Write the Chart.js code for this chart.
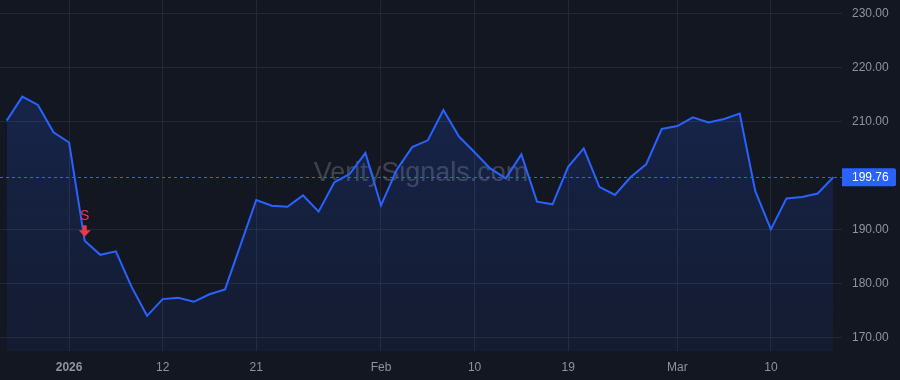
<!DOCTYPE html>
<html>
<head>
<meta charset="utf-8">
<script src="https://cdn.jsdelivr.net/npm/chart.js@4/dist/chart.umd.min.js"></script>
<style>
    html, body { margin: 0; padding: 0; background: #131722; }
    canvas { display: block; }
</style>
</head>
<body>
<canvas id="priceChart" width="900" height="380"></canvas>
<script>
// trading days, Dec 26 2025 -> Mar 16 2026
const dates = [
    'Dec 26', 'Dec 29', 'Dec 30', 'Dec 31', 'Jan 2', 'Jan 5', 'Jan 6', 'Jan 7', 'Jan 8', 'Jan 9',
    'Jan 12', 'Jan 13', 'Jan 14', 'Jan 15', 'Jan 16', 'Jan 20', 'Jan 21', 'Jan 22', 'Jan 23', 'Jan 26',
    'Jan 27', 'Jan 28', 'Jan 29', 'Jan 30', 'Feb 2', 'Feb 3', 'Feb 4', 'Feb 5', 'Feb 6', 'Feb 9',
    'Feb 10', 'Feb 11', 'Feb 12', 'Feb 13', 'Feb 17', 'Feb 18', 'Feb 19', 'Feb 20', 'Feb 23', 'Feb 24',
    'Feb 25', 'Feb 26', 'Feb 27', 'Mar 2', 'Mar 3', 'Mar 4', 'Mar 5', 'Mar 6', 'Mar 9', 'Mar 10',
    'Mar 11', 'Mar 12', 'Mar 13', 'Mar 16'
];
const closes = [
    210.25, 214.7, 213.15, 208.1, 206.2, 188.0, 185.4, 186.05, 179.5, 174.1,
    177.2, 177.45, 176.7, 178.1, 179.0, 187.3, 195.55, 194.5, 194.3, 196.4,
    193.4, 198.8, 200.4, 204.25, 194.55, 201.1, 205.35, 206.6, 212.2, 207.3,
    204.4, 201.4, 199.55, 204.0, 195.25, 194.75, 201.7, 205.1, 198.0, 196.5,
    199.75, 202.15, 208.7, 209.25, 210.85, 209.9, 210.55, 211.55, 197.2, 190.1,
    195.85, 196.1, 196.75, 199.76
];
const xTickIdx = [4, 10, 16, 24, 30, 36, 43, 49];
const xTickLabels = ['2026', '12', '21', 'Feb', '10', '19', 'Mar', '10'];
const yTicks = [170, 180, 190, 210, 220, 230];
const sellSignals = [5]; // indices with an "S" marker

const BLUE = '#2962FF';
const TEXT = '#8f939c';
const GRID = '#242833';
const lastValue = closes[closes.length - 1];

const overlayPlugin = {
    id: 'overlay',
    beforeDatasetsDraw(chart) {
        const { ctx, chartArea } = chart;
        ctx.save();
        ctx.font = '27px "Liberation Sans", Arial, sans-serif';
        ctx.fillStyle = 'rgba(255,255,255,0.19)';
        ctx.textAlign = 'center';
        ctx.textBaseline = 'middle';
        ctx.fillText('VeritySignals.com', (chartArea.left + chartArea.right) / 2, (chartArea.top + chartArea.bottom) / 2 - 2);
        ctx.restore();
    },
    afterDatasetsDraw(chart) {
        const { ctx, chartArea, scales } = chart;
        const y = scales.y.getPixelForValue(lastValue);
        ctx.save();
        // dotted last-price line
        ctx.strokeStyle = BLUE;
        ctx.lineWidth = 1;
        ctx.setLineDash([3, 3]);
        ctx.beginPath();
        ctx.moveTo(chartArea.left, Math.round(y) + 0.5);
        ctx.lineTo(chartArea.right, Math.round(y) + 0.5);
        ctx.stroke();
        ctx.setLineDash([]);

        // sell markers
        sellSignals.forEach(i => {
            const px = scales.x.getPixelForValue(i);
            const py = scales.y.getPixelForValue(closes[i]);
            ctx.fillStyle = '#f23645';
            ctx.fillRect(px - 2, py - 15.5, 4, 5.5);
            ctx.beginPath();
            ctx.moveTo(px - 6, py - 10.5);
            ctx.lineTo(px + 6, py - 10.5);
            ctx.lineTo(px, py - 4);
            ctx.closePath();
            ctx.fill();
            ctx.font = '14px "Liberation Sans", Arial, sans-serif';
            ctx.textAlign = 'center';
            ctx.textBaseline = 'middle';
            ctx.fillText('S', px, py - 24.5);
        });
        ctx.restore();
    },
    afterDraw(chart) {
        const { ctx, chartArea, scales } = chart;
        const y = scales.y.getPixelForValue(lastValue);
        const x0 = chartArea.right;
        ctx.save();
        ctx.fillStyle = BLUE;
        ctx.beginPath();
        ctx.roundRect(x0, y - 9, 54, 18, [0, 2, 2, 0]);
        ctx.fill();
        ctx.fillStyle = '#ffffff';
        ctx.font = '12px "Liberation Sans", Arial, sans-serif';
        ctx.textAlign = 'left';
        ctx.textBaseline = 'middle';
        ctx.fillText(lastValue.toFixed(2), x0 + 10, y + 0.5);
        ctx.restore();
    }
};

const ctx = document.getElementById('priceChart').getContext('2d');
new Chart(ctx, {
    type: 'line',
    data: {
        datasets: [{
            label: 'Close',
            data: closes.map((v, i) => ({ x: i, y: v })),
            borderColor: BLUE,
            borderWidth: 2,
            pointRadius: 0,
            tension: 0,
            fill: 'start',
            backgroundColor: (c) => {
                const area = c.chart.chartArea;
                if (!area) return 'rgba(41,98,255,0.15)';
                const g = c.chart.ctx.createLinearGradient(0, area.top, 0, area.bottom);
                g.addColorStop(0, 'rgba(41,98,255,0.22)');
                g.addColorStop(1, 'rgba(41,98,255,0.07)');
                return g;
            }
        }]
    },
    options: {
        responsive: false,
        animation: false,
        layout: { padding: 0 },
        plugins: {
            legend: { display: false },
            tooltip: { enabled: false }
        },
        scales: {
            x: {
                type: 'linear',
                min: -0.43,
                max: 53.56,
                afterBuildTicks: scale => {
                    scale.ticks = xTickIdx.map(v => ({ value: v }));
                },
                afterFit: scale => {
                    scale.height = 29;
                    scale.paddingLeft = 0;
                    scale.paddingRight = 0;
                },
                grid: { color: GRID, drawTicks: false },
                border: { display: false },
                ticks: {
                    padding: 9,
                    maxRotation: 0,
                    autoSkip: false,
                    color: TEXT,
                    font: (c) => ({
                        family: '"Liberation Sans", Arial, sans-serif',
                        size: 12,
                        weight: c.tick && c.tick.value === 4 ? 'bold' : 'normal'
                    }),
                    callback: (value) => {
                        const k = xTickIdx.indexOf(value);
                        return k >= 0 ? xTickLabels[k] : '';
                    }
                }
            },
            y: {
                position: 'right',
                min: 167.59,
                max: 232.59,
                afterBuildTicks: scale => {
                    scale.ticks = yTicks.map(v => ({ value: v }));
                },
                afterFit: scale => {
                    scale.width = 58;
                    scale.paddingTop = 0;
                    scale.paddingBottom = 0;
                },
                grid: { color: GRID, drawTicks: false },
                border: { display: false },
                ticks: {
                    padding: 10,
                    color: TEXT,
                    font: { family: '"Liberation Sans", Arial, sans-serif', size: 12 },
                    callback: (value) => value.toFixed(2)
                }
            }
        }
    },
    plugins: [overlayPlugin]
});
</script>
</body>
</html>
